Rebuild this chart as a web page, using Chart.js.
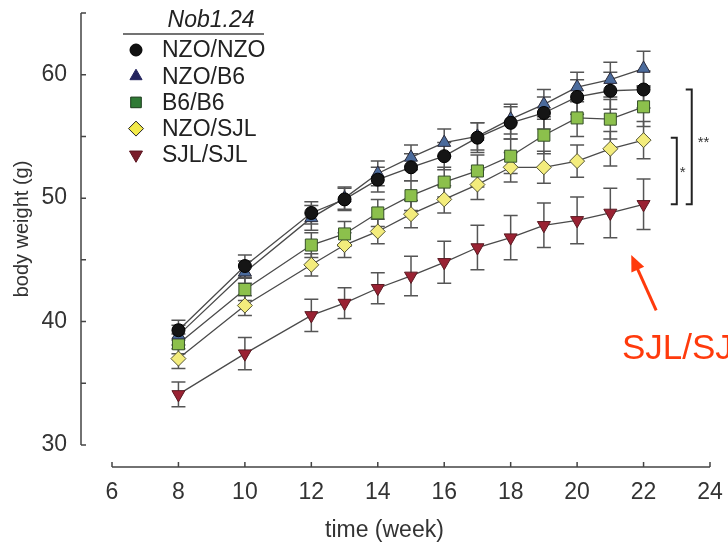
<!DOCTYPE html>
<html>
<head>
<meta charset="utf-8">
<script src="https://cdn.jsdelivr.net/npm/chart.js@4/dist/chart.umd.min.js"></script>
<style>
  html, body { margin: 0; padding: 0; background: #ffffff; }
  #wrap { width: 728px; height: 544px; }
</style>
</head>
<body>
<div id="wrap"><canvas id="c" width="728" height="544"></canvas></div>
<script>
// ---- data ----
const weeks = [8, 10, 12, 13, 14, 15, 16, 17, 18, 19, 20, 21, 22];
const seriesNames = ['NZO/NZO', 'NZO/B6', 'B6/B6', 'NZO/SJL', 'SJL/SJL'];
const nzoNzo = [39.3, 44.5, 48.8, 49.9, 51.5, 52.5, 53.4, 54.9, 56.1, 56.9, 58.2, 58.7, 58.8];
const nzoB6  = [38.9, 44.0, 48.4, 50.0, 52.0, 53.3, 54.5, 55.0, 56.4, 57.6, 59.0, 59.6, 60.5];
const b6B6   = [38.2, 42.6, 46.2, 47.1, 48.8, 50.2, 51.3, 52.2, 53.4, 55.1, 56.5, 56.4, 57.4];
const nzoSjl = [37.0, 41.3, 44.6, 46.2, 47.3, 48.7, 49.9, 51.1, 52.5, 52.5, 53.0, 54.0, 54.7];
const sjlSjl = [34.1, 37.4, 40.5, 41.5, 42.7, 43.7, 44.8, 46.0, 46.8, 47.8, 48.2, 48.8, 49.5];
const errNzoNzo = [0.8, 0.9, 0.9, 0.9, 1.0, 1.1, 1.1, 1.2, 1.3, 1.3, 1.4, 1.5, 1.5];
const errNzoB6  = [0.8, 0.9, 1.0, 0.9, 1.0, 1.0, 1.1, 1.1, 1.2, 1.2, 1.2, 1.4, 1.4];
const errB6B6   = [0.8, 0.9, 1.0, 1.0, 1.1, 1.2, 1.2, 1.3, 1.4, 1.5, 1.5, 1.6, 1.6];
const errNzoSjl = [0.8, 0.8, 0.9, 1.0, 1.0, 1.1, 1.1, 1.2, 1.2, 1.3, 1.3, 1.4, 1.5];
const errSjlSjl = [1.0, 1.3, 1.3, 1.25, 1.25, 1.6, 1.7, 1.8, 1.8, 1.8, 1.9, 2.0, 2.05];
const xTicks = [6, 8, 10, 12, 14, 16, 18, 20, 22, 24];
const yTickLabels = [30, 40, 50, 60];
const legendTitle = 'Nob1.24';
const xTitle = 'time (week)';
const yTitle = 'body weight (g)';
const calloutText = 'SJL/SJL';
const starSingle = '*';
const starDouble = '**';

// ---- styles ----
const FONT = '"Liberation Sans", Arial, Helvetica, sans-serif';
const styles = [
  { fill: '#151515', border: '#000000', style: 'circle', r: 6.5, rot: 0, lfill: '#111111', lborder: '#000', lr: 6 },
  { fill: '#4b6b9c', border: '#2a2a3a', style: 'triangle', r: 7.5, rot: 0, lfill: '#24245e', lborder: '#24245e', lr: 7 },
  { fill: '#8cc04c', border: '#36502a', style: 'rect', r: 8.5, rot: 0, lfill: '#2f7a35', lborder: '#1a3a1a', lr: 7.5 },
  { fill: '#f3ec7c', border: '#555533', style: 'rectRot', r: 7.5, rot: 0, lfill: '#f3ea4a', lborder: '#222', lr: 7.5 },
  { fill: '#9a2233', border: '#5a1a22', style: 'triangle', r: 7.5, rot: 180, lfill: '#7a1d2b', lborder: '#5a1520', lr: 7.5 }
];
const values = [nzoNzo, nzoB6, b6B6, nzoSjl, sjlSjl];
const errors = [errNzoNzo, errNzoB6, errB6B6, errNzoSjl, errSjlSjl];

const datasets = values.map((vals, i) => ({
  label: seriesNames[i],
  data: weeks.map((w, j) => ({ x: w, y: vals[j] })),
  showLine: true,
  borderColor: '#4a4a4a',
  borderWidth: 1.3,
  pointStyle: styles[i].style,
  pointRotation: styles[i].rot,
  pointRadius: styles[i].r,
  pointHoverRadius: styles[i].r,
  pointBackgroundColor: styles[i].fill,
  pointBorderColor: styles[i].border,
  pointBorderWidth: 1,
  fill: false,
  tension: 0
}));

const errorBarPlugin = {
  id: 'errorBars',
  beforeDatasetsDraw(chart) {
    const ctx = chart.ctx, xs = chart.scales.x, ys = chart.scales.y;
    ctx.save();
    ctx.strokeStyle = '#555555';
    ctx.lineWidth = 1.5;
    for (let i = values.length - 1; i >= 0; i--) {
      values[i].forEach((v, j) => {
        const px = xs.getPixelForValue(weeks[j]);
        const top = ys.getPixelForValue(v + errors[i][j]);
        const bot = ys.getPixelForValue(v - errors[i][j]);
        ctx.beginPath();
        ctx.moveTo(px, top); ctx.lineTo(px, bot);
        ctx.moveTo(px - 7, top); ctx.lineTo(px + 7, top);
        ctx.moveTo(px - 7, bot); ctx.lineTo(px + 7, bot);
        ctx.stroke();
      });
    }
    ctx.restore();
  }
};

const axesPlugin = {
  id: 'detachedAxes',
  afterDraw(chart) {
    const ctx = chart.ctx, xs = chart.scales.x, ys = chart.scales.y;
    const ax = chart.chartArea.left - 31;
    const ay = chart.chartArea.bottom + 22;
    ctx.save();
    ctx.strokeStyle = '#444444';
    ctx.lineWidth = 1.5;
    ctx.beginPath();
    ctx.moveTo(ax, ys.getPixelForValue(ys.max));
    ctx.lineTo(ax, ys.getPixelForValue(ys.min));
    for (let v = ys.min; v <= ys.max; v += 5) {
      const py = ys.getPixelForValue(v);
      ctx.moveTo(ax, py); ctx.lineTo(ax + 5, py);
    }
    ctx.moveTo(xs.getPixelForValue(xs.min), ay);
    ctx.lineTo(xs.getPixelForValue(xs.max), ay);
    xTicks.forEach(t => {
      const px = xs.getPixelForValue(t);
      ctx.moveTo(px, ay); ctx.lineTo(px, ay - 5);
    });
    ctx.stroke();
    // x axis title (placed left of centre as in the original figure)
    ctx.fillStyle = '#333333';
    ctx.font = '23px ' + FONT;
    ctx.textAlign = 'center';
    ctx.textBaseline = 'middle';
    ctx.fillText(xTitle, xs.getPixelForValue(14.2), chart.height - 13);
    ctx.restore();
  }
};

function drawMarker(ctx, st, x, y) {
  ctx.save();
  ctx.fillStyle = st.lfill;
  ctx.strokeStyle = st.lborder;
  ctx.lineWidth = 1;
  Chart.helpers.drawPoint(ctx, { pointStyle: st.style, rotation: st.rot, radius: st.lr, borderWidth: 1 }, x, y);
  ctx.restore();
}

const legendPlugin = {
  id: 'customLegend',
  afterDraw(chart) {
    const ctx = chart.ctx;
    ctx.save();
    ctx.fillStyle = '#222222';
    ctx.font = 'italic 23px ' + FONT;
    ctx.textAlign = 'center';
    ctx.textBaseline = 'middle';
    ctx.fillText(legendTitle, 211, 21);
    ctx.strokeStyle = '#444444';
    ctx.lineWidth = 1.5;
    ctx.beginPath(); ctx.moveTo(123, 34); ctx.lineTo(264, 34); ctx.stroke();
    ctx.font = '23px ' + FONT;
    ctx.textAlign = 'left';
    seriesNames.forEach((name, i) => {
      const y = 50 + i * 26.2;
      drawMarker(ctx, styles[i], 136, y);
      ctx.fillStyle = '#222222';
      ctx.fillText(name, 162, y + 1);
    });
    ctx.restore();
  }
};

const annotationPlugin = {
  id: 'annotations',
  afterDraw(chart) {
    const ctx = chart.ctx, xs = chart.scales.x, ys = chart.scales.y;
    const last = weeks.length - 1;
    ctx.save();
    ctx.strokeStyle = '#222222';
    ctx.lineWidth = 2;
    function bracket(xv, v1, v2) {
      const px = xs.getPixelForValue(xv);
      const y1 = ys.getPixelForValue(v1), y2 = ys.getPixelForValue(v2);
      ctx.beginPath();
      ctx.moveTo(px - 6, y1); ctx.lineTo(px, y1); ctx.lineTo(px, y2); ctx.lineTo(px - 6, y2);
      ctx.stroke();
      return { px, y1, y2 };
    }
    const b2 = bracket(23.45, nzoNzo[last], sjlSjl[last]);
    const b1 = bracket(23.0, nzoSjl[last] + 0.2, sjlSjl[last]);
    ctx.fillStyle = '#333333';
    ctx.font = '15px ' + FONT;
    ctx.textAlign = 'left';
    ctx.textBaseline = 'middle';
    ctx.fillText(starDouble, b2.px + 6, (b2.y1 + b2.y2) / 2 - 4);
    ctx.fillText(starSingle, b1.px + 3, (b1.y1 + b1.y2) / 2 + 2);

    // callout arrow
    const tx = xs.getPixelForValue(22.38), ty = ys.getPixelForValue(40.9);
    const hx = xs.getPixelForValue(21.63), hy = ys.getPixelForValue(45.4);
    const ang = Math.atan2(hy - ty, hx - tx);
    const red = '#ff3a0c';
    ctx.strokeStyle = red; ctx.fillStyle = red;
    ctx.lineWidth = 3;
    ctx.beginPath();
    ctx.moveTo(tx, ty);
    ctx.lineTo(hx - Math.cos(ang) * 10, hy - Math.sin(ang) * 10);
    ctx.stroke();
    ctx.beginPath();
    ctx.moveTo(hx, hy);
    ctx.lineTo(hx - Math.cos(ang) * 16 + Math.sin(ang) * 7, hy - Math.sin(ang) * 16 - Math.cos(ang) * 7);
    ctx.lineTo(hx - Math.cos(ang) * 16 - Math.sin(ang) * 7, hy - Math.sin(ang) * 16 + Math.cos(ang) * 7);
    ctx.closePath();
    ctx.fill();
    ctx.font = '35px ' + FONT;
    ctx.textAlign = 'left';
    ctx.textBaseline = 'alphabetic';
    ctx.fillText(calloutText, xs.getPixelForValue(21.35), ys.getPixelForValue(37.0));
    ctx.restore();
  }
};

new Chart(document.getElementById('c'), {
  type: 'scatter',
  data: { datasets },
  options: {
    responsive: false,
    animation: false,
    events: [],
    layout: { padding: { left: 0, right: 18, top: 13, bottom: 0 } },
    plugins: { legend: { display: false }, tooltip: { enabled: false } },
    scales: {
      x: {
        type: 'linear', min: 6, max: 24,
        border: { display: false },
        grid: { display: false, drawTicks: false },
        afterBuildTicks(s) { s.ticks = xTicks.map(v => ({ value: v })); },
        afterFit(s) { s.height = 99; s.paddingLeft = 0; s.paddingRight = 0; },
        ticks: { color: '#333333', font: { family: FONT, size: 23 }, padding: 34, maxRotation: 0, autoSkip: false },
        title: { display: false, text: xTitle }
      },
      y: {
        type: 'linear', min: 30, max: 65,
        border: { display: false },
        grid: { display: false, drawTicks: false },
        afterBuildTicks(s) { s.ticks = yTickLabels.map(v => ({ value: v })); },
        afterFit(s) { s.width = 112; s.paddingTop = 0; s.paddingBottom = 0; },
        ticks: { color: '#333333', font: { family: FONT, size: 23 }, padding: 45, autoSkip: false },
        title: { display: true, text: yTitle, color: '#333333', font: { family: FONT, size: 20 }, padding: { top: 10, bottom: 0 } }
      }
    }
  },
  plugins: [errorBarPlugin, axesPlugin, legendPlugin, annotationPlugin]
});
</script>
</body>
</html>
